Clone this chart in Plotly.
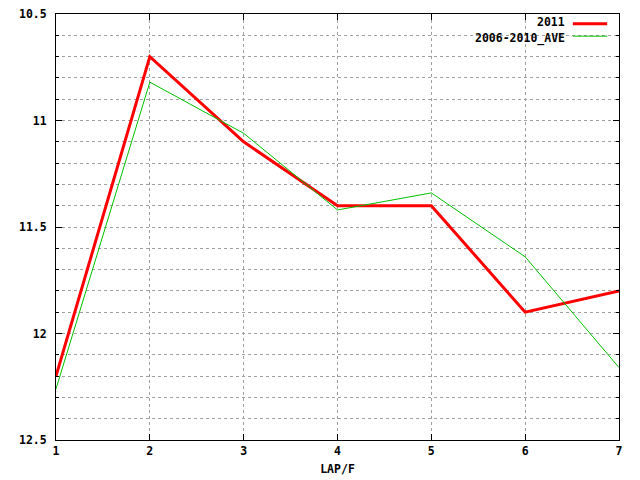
import plotly.graph_objects as go

# vueltas y tiempos
laps = [1, 2, 3, 4, 5, 6, 7]
tiempo_2011 = [12.20, 10.70, 11.10, 11.40, 11.40, 11.90, 11.80]
tiempo_ave = [12.26, 10.82, 11.06, 11.42, 11.34, 11.64, 12.16]

y_ticks = [10.5, 11, 11.5, 12, 12.5]
y_labels = ["10.5", "11", "11.5", "12", "12.5"]

fuente = dict(family="DejaVu Sans Mono", size=11.5, color="black", weight="bold")

fig = go.Figure()
fig.add_trace(go.Scatter(x=laps, y=tiempo_2011, mode="lines", name="2011",
                         line=dict(color="#ff0000", width=3)))
fig.add_trace(go.Scatter(x=laps, y=tiempo_ave, mode="lines", name="2006-2010_AVE",
                         line=dict(color="#00c000", width=1)))

# leyenda estilo gnuplot: texto a la izquierda, linea a la derecha
fig.add_annotation(x=0.906, y=0.9625, xref="paper", yref="paper", text="2011",
                   showarrow=False, xanchor="right", yanchor="bottom", font=fuente,
                   borderpad=0)
fig.add_annotation(x=0.906, y=0.9625, xref="paper", yref="paper", text="2006-2010_AVE",
                   showarrow=False, xanchor="right", yanchor="top", font=fuente,
                   borderpad=0)
fig.add_shape(type="line", xref="paper", yref="paper", x0=0.918, x1=0.979, y0=0.977, y1=0.977,
              line=dict(color="#ff0000", width=3))
fig.add_shape(type="line", xref="paper", yref="paper", x0=0.918, x1=0.979, y0=0.948, y1=0.948,
              line=dict(color="#00c000", width=1))

# la pagina deja 8px de margen en el body, se descuentan aqui
fig.update_layout(
    width=632, height=472,
    margin=dict(l=48, r=21, t=6, b=40, autoexpand=False),
    paper_bgcolor="white", plot_bgcolor="white",
    showlegend=False,
    font=fuente,
)
fig.update_xaxes(
    range=[1, 7], tickvals=laps, ticks="inside", ticklen=6, tickcolor="black",
    showline=True, linecolor="black", linewidth=1, mirror="ticks",
    showgrid=True, gridcolor="#a0a0a0", griddash="dot", gridwidth=1,
    zeroline=False, tickfont=fuente, automargin=False, layer="above traces",
    ticklabeloverflow="allow",
    title=dict(text="LAP/F", font=fuente, standoff=8),
)
fig.update_yaxes(
    range=[12.5, 10.5], tickvals=y_ticks, ticktext=y_labels,
    ticks="inside", ticklen=6, tickcolor="black", ticklabelstandoff=6,
    showline=True, linecolor="black", linewidth=1, mirror="ticks",
    showgrid=True, gridcolor="#a0a0a0", griddash="dot", gridwidth=1,
    minor=dict(dtick=0.1, ticks="inside", ticklen=3, tickcolor="black",
               showgrid=True, gridcolor="#a0a0a0", griddash="dot", gridwidth=1),
    zeroline=False, tickfont=fuente, automargin=False, layer="above traces",
    ticklabeloverflow="allow",
)

fig.write_html("out.html")
